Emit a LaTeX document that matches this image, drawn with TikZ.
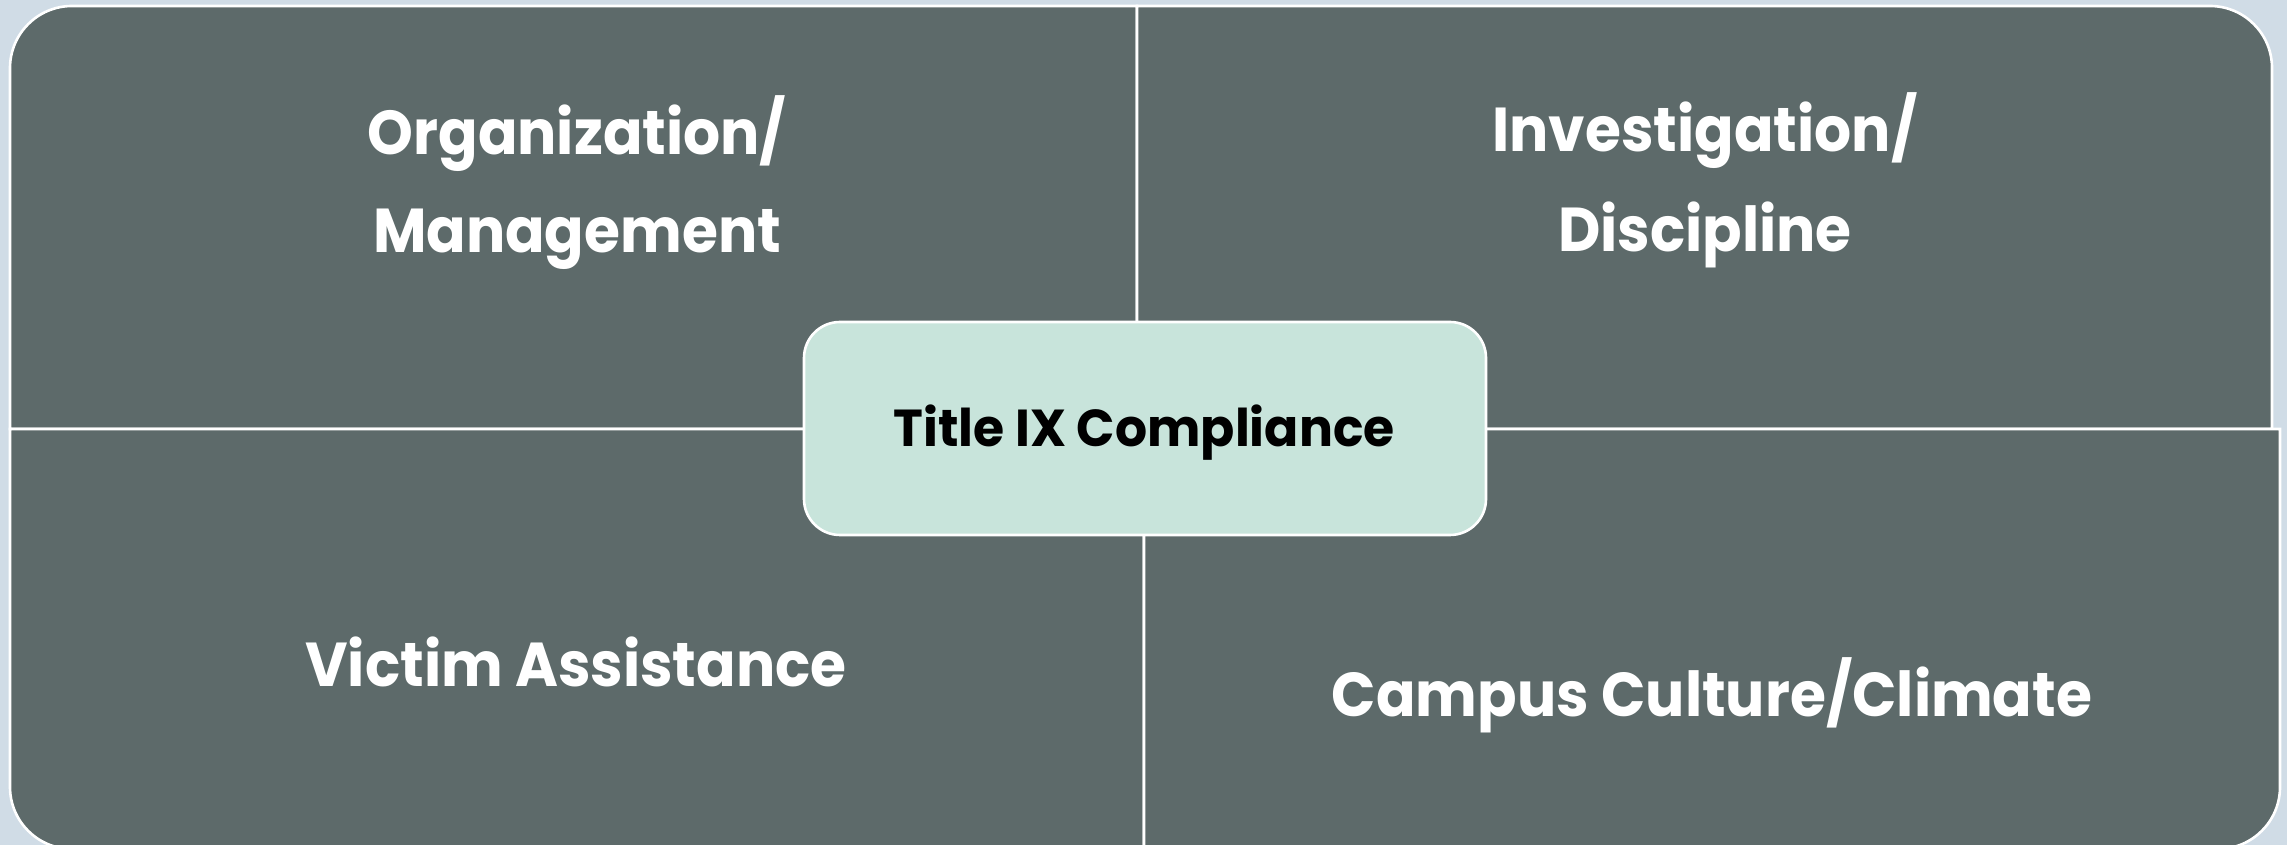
\documentclass[tikz,border=0pt]{standalone}
\usepackage{fontspec}
\setmainfont{Poppins}
\definecolor{bgc}{HTML}{D0DCE6}
\definecolor{quadc}{HTML}{5D6A6A}
\definecolor{centc}{HTML}{C8E4DB}
\tikzset{
  quad/.style={fill=quadc, draw=white, line width=1.3pt},
  qtext/.style={text=white, font=\fontsize{31}{40}\selectfont\bfseries, align=center, inner sep=0pt, xscale=0.94, transform shape},
  ctext/.style={text=black, font=\fontsize{26}{32}\selectfont\bfseries, align=center, inner sep=0pt, xscale=0.97, transform shape},
  centbox/.style={fill=centc, draw=white, line width=1.3pt, rounded corners=18pt, minimum width=341pt, minimum height=106.5pt}
}
\begin{document}
\begin{tikzpicture}[x=0.5pt,y=0.5pt]
\useasboundingbox (0,0) rectangle (2287,845);
\fill[bgc] (0,0) rectangle (2287,845);
\begin{scope}
\clip (0,0) rectangle (2287,845);
\draw[quad] (1137,416) -- (10,416) -- (10,777) arc[start angle=180,end angle=90,radius=31pt] -- (1137,839) -- cycle;
\draw[quad] (1137,416) -- (1137,839) -- (2210,839) arc[start angle=90,end angle=0,radius=31pt] -- (2272,416) -- cycle;
\draw[quad] (1144,416) -- (10,416) -- (10,58) arc[start angle=180,end angle=270,radius=31pt] -- (1144,-4) -- cycle;
\draw[quad] (1144,416) -- (2280,416) -- (2280,58) arc[start angle=0,end angle=-90,radius=31pt] -- (1144,-4) -- cycle;
\end{scope}
\node[centbox] (center) at (1145,416.5) {};
\node[ctext] (title) at (1144,412) {Title IX Compliance};
\node[qtext] (org) at (577,711) {Organization/};
\node[qtext] (mgmt) at (577,606) {Management};
\node[qtext] (inv) at (1705,714) {Investigation/};
\node[qtext] (disc) at (1705,610) {Discipline};
\node[qtext] (victim) at (576,183) {Victim Assistance};
\node[qtext] (campus) at (1712,150) {Campus Culture/Climate};
\end{tikzpicture}
\end{document}
